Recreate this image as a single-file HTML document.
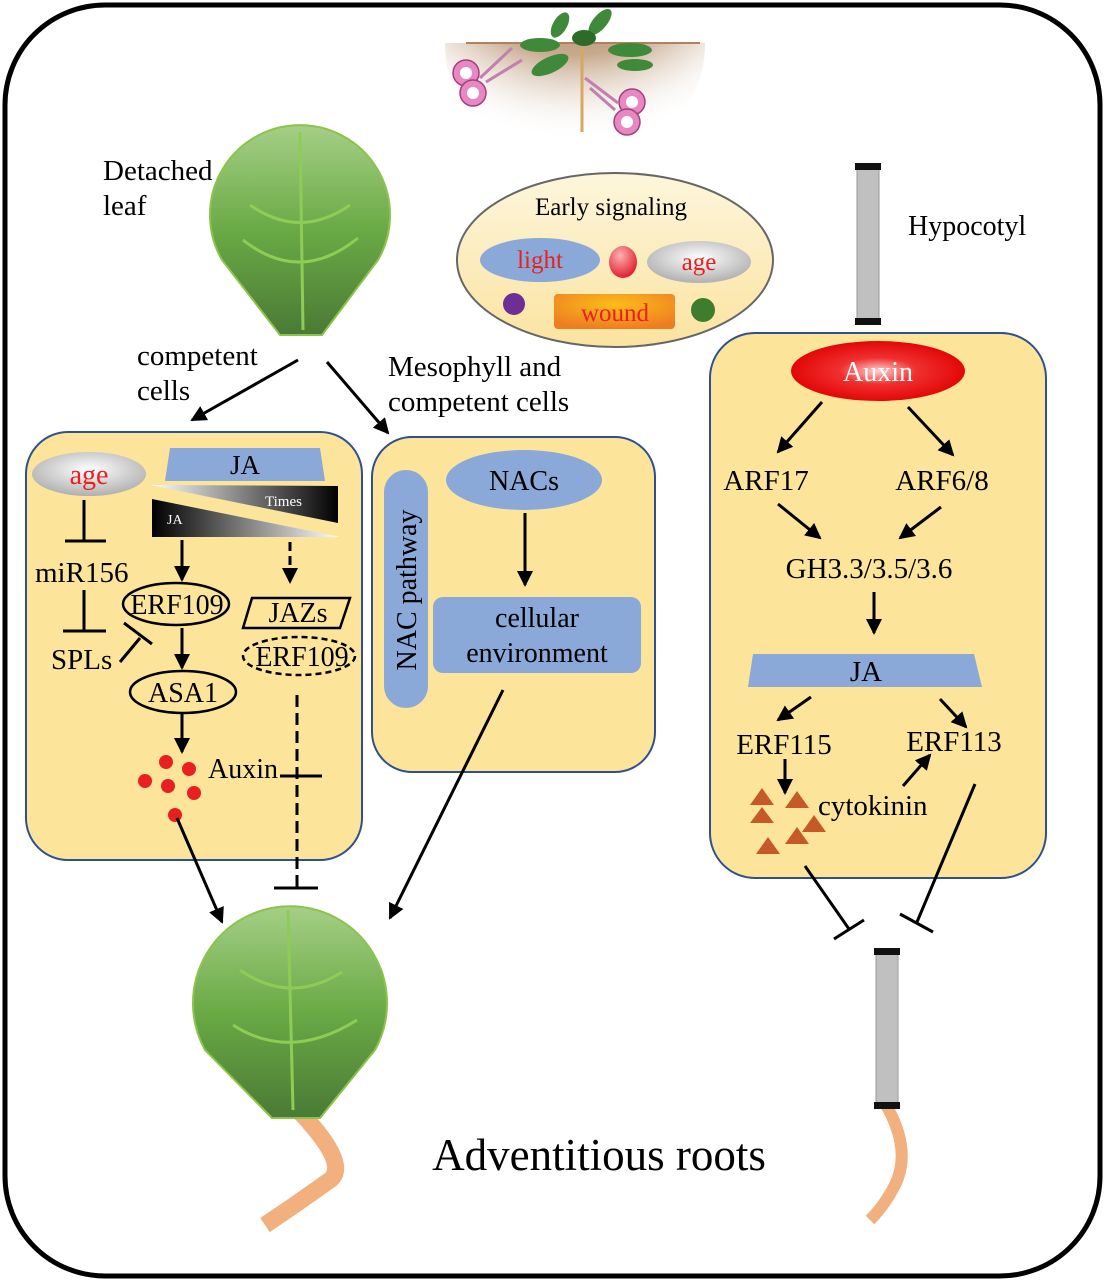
<!DOCTYPE html>
<html><head><meta charset="utf-8"><style>
html,body{margin:0;padding:0;background:#fff}
svg{display:block}
text{font-family:"Liberation Serif",serif}
</style></head><body>
<svg width="1105" height="1281" viewBox="0 0 1105 1281" xmlns="http://www.w3.org/2000/svg">
<defs>
<marker id="a2" markerWidth="16" markerHeight="16" refX="14" refY="8" orient="auto" markerUnits="userSpaceOnUse" viewBox="0 0 16 16">
<path d="M0,0 L16,8 L0,16 Z" fill="#000"/></marker>
<linearGradient id="leaf" x1="0" y1="0" x2="0" y2="1">
<stop offset="0" stop-color="#a5cf86"/><stop offset="0.5" stop-color="#6aaa45"/><stop offset="1" stop-color="#4a7a35"/></linearGradient>
<radialGradient id="gray" cx="0.5" cy="0.4" r="0.6"><stop offset="0" stop-color="#fff"/><stop offset="1" stop-color="#b0b0b0"/></radialGradient>
<radialGradient id="auxin" cx="0.5" cy="0.5" r="0.55"><stop offset="0" stop-color="#ffd0d0"/><stop offset="0.4" stop-color="#f03030"/><stop offset="1" stop-color="#e00000"/></radialGradient>
<radialGradient id="soil" cx="0.5" cy="0" r="0.9"><stop offset="0" stop-color="#8b6240"/><stop offset="0.6" stop-color="#c7a98d"/><stop offset="1" stop-color="#fff" stop-opacity="0"/></radialGradient>
<linearGradient id="ell" x1="0" y1="0" x2="0" y2="1"><stop offset="0" stop-color="#fdf6dc"/><stop offset="1" stop-color="#fbe3a0"/></linearGradient>
<radialGradient id="wound" cx="0.5" cy="0.3" r="0.7"><stop offset="0" stop-color="#fbbd1a"/><stop offset="1" stop-color="#ee7d22"/></radialGradient>
<linearGradient id="tri1" x1="0" y1="0" x2="1" y2="0"><stop offset="0" stop-color="#fff"/><stop offset="1" stop-color="#000"/></linearGradient>
<linearGradient id="tri2" x1="0" y1="0" x2="1" y2="0"><stop offset="0" stop-color="#000"/><stop offset="1" stop-color="#fff"/></linearGradient>
<radialGradient id="redb" cx="0.4" cy="0.3" r="0.7"><stop offset="0" stop-color="#ffb0b0"/><stop offset="1" stop-color="#e02030"/></radialGradient>
<clipPath id="soilclip"><rect x="440" y="43" width="300" height="130"/></clipPath>
</defs>

<rect x="5" y="5" width="1095" height="1271" rx="100" fill="#fff" stroke="#000" stroke-width="5"/>

<!-- top plant -->
<ellipse cx="575" cy="45" rx="130" ry="120" fill="url(#soil)" clip-path="url(#soilclip)"/>
<line x1="466" y1="43" x2="700" y2="43" stroke="#b08060" stroke-width="2"/>
<line x1="582" y1="48" x2="582" y2="132" stroke="#d8a860" stroke-width="3"/>
<ellipse cx="560" cy="25" rx="14" ry="7" fill="#3f8a3a" transform="rotate(-60 560 25)"/>
<ellipse cx="600" cy="22" rx="16" ry="7" fill="#3f8a3a" transform="rotate(-50 600 22)"/>
<ellipse cx="540" cy="45" rx="20" ry="7" fill="#3f8a3a"/>
<ellipse cx="630" cy="50" rx="22" ry="7" fill="#3f8a3a"/>
<ellipse cx="550" cy="65" rx="20" ry="8" fill="#3f8a3a" transform="rotate(-25 550 65)"/>
<ellipse cx="635" cy="65" rx="18" ry="6" fill="#3f8a3a"/>
<ellipse cx="584" cy="38" rx="12" ry="8" fill="#2e6a2a"/>
<g fill="#e888c0" stroke="#a04080" stroke-width="1.5">
<circle cx="466" cy="73" r="13"/><circle cx="473" cy="93" r="13"/>
<circle cx="632" cy="102" r="13"/><circle cx="627" cy="122" r="13"/></g>
<g fill="#fff"><circle cx="466" cy="73" r="6"/><circle cx="473" cy="93" r="6"/><circle cx="632" cy="102" r="6"/><circle cx="627" cy="122" r="6"/></g>
<line x1="480" y1="78" x2="512" y2="48" stroke="#c080b0" stroke-width="3"/>
<line x1="486" y1="82" x2="522" y2="60" stroke="#c080b0" stroke-width="3"/>
<line x1="618" y1="103" x2="585" y2="78" stroke="#c080b0" stroke-width="3"/>
<line x1="615" y1="110" x2="590" y2="88" stroke="#c080b0" stroke-width="3"/>

<!-- detached leaf -->
<path d="M280,335 L222,260 A90,90 0 1 1 378,260 L322,335 Z" fill="url(#leaf)" stroke="#8cc34a" stroke-width="2"/>
<path d="M300,132 L303,330" stroke="#8fcc55" stroke-width="3" fill="none"/>
<path d="M250,205 Q300,240 350,205 M243,240 Q300,285 358,238" stroke="#8fcc55" stroke-width="3" fill="none"/>
<text x="103" y="180" font-size="29">Detached</text>
<text x="103" y="215" font-size="29">leaf</text>

<!-- Early signaling -->
<ellipse cx="615" cy="260" rx="158" ry="87" fill="url(#ell)" stroke="#666" stroke-width="2"/>
<text x="611" y="215" font-size="25" text-anchor="middle">Early signaling</text>
<ellipse cx="540" cy="260" rx="60" ry="22" fill="#8aa8d8"/>
<text x="540" y="268" font-size="25" fill="#e82020" text-anchor="middle">light</text>
<ellipse cx="623" cy="262" rx="14" ry="16" fill="url(#redb)"/>
<ellipse cx="699" cy="262" rx="52" ry="21" fill="url(#gray)"/>
<text x="699" y="270" font-size="25" fill="#e82020" text-anchor="middle">age</text>
<circle cx="514" cy="304" r="11" fill="#6b2f95"/>
<rect x="554" y="294" width="121" height="35" rx="4" fill="url(#wound)"/>
<text x="615" y="321" font-size="25" fill="#e82020" text-anchor="middle">wound</text>
<circle cx="703" cy="310" r="12" fill="#3e7c2e"/>

<!-- Hypocotyl -->
<rect x="857" y="167" width="22" height="157" fill="#c0c0c0" stroke="#999"/>
<rect x="855" y="163" width="26" height="7" fill="#111"/>
<rect x="855" y="318" width="26" height="7" fill="#111"/>
<text x="908" y="235" font-size="28">Hypocotyl</text>

<!-- arrows from leaf -->
<line x1="298" y1="360" x2="192" y2="420" stroke="#000" stroke-width="3" marker-end="url(#a2)"/>
<line x1="327" y1="362" x2="388" y2="433" stroke="#000" stroke-width="3" marker-end="url(#a2)"/>
<text x="137" y="365" font-size="29">competent</text>
<text x="137" y="400" font-size="29">cells</text>
<text x="388" y="376" font-size="29">Mesophyll and</text>
<text x="388" y="411" font-size="29">competent cells</text>

<!-- left box -->
<rect x="26" y="432" width="336" height="428" rx="42" fill="#fce59b" stroke="#2f4f8f" stroke-width="2"/>
<ellipse cx="89" cy="474" rx="57" ry="22" fill="url(#gray)"/>
<text x="89" y="484" font-size="28" fill="#e82020" text-anchor="middle">age</text>
<path d="M170,448 L320,448 L325,481 L165,481 Z" fill="#8aa8d8"/>
<text x="245" y="474" font-size="27" text-anchor="middle">JA</text>
<path d="M150,485 L338,486 L338,523 Z" fill="url(#tri1)"/>
<text x="265" y="506" font-size="15" fill="#fff">Times</text>
<path d="M152,499 L152,537 L340,537 Z" fill="url(#tri2)"/>
<text x="167" y="524" font-size="14" fill="#fff">JA</text>
<g stroke="#000" stroke-width="3" fill="none">
<line x1="84" y1="500" x2="84" y2="540"/><line x1="65" y1="541" x2="106" y2="541"/>
<line x1="84" y1="590" x2="84" y2="630"/><line x1="63" y1="631" x2="106" y2="631"/>
<line x1="120" y1="662" x2="140" y2="638"/><line x1="124" y1="623" x2="152" y2="644"/>
<line x1="182" y1="540" x2="182" y2="580" marker-end="url(#a2)"/>
<line x1="182" y1="628" x2="182" y2="668" marker-end="url(#a2)"/>
<line x1="182" y1="714" x2="182" y2="752" marker-end="url(#a2)"/>
<line x1="290" y1="542" x2="290" y2="582" stroke-dasharray="9,5" marker-end="url(#a2)"/>
<line x1="297" y1="695" x2="297" y2="888" stroke-dasharray="12,6"/>
<line x1="274" y1="888" x2="318" y2="888"/>
<line x1="280" y1="776" x2="322" y2="776"/>
</g>
<text x="35" y="582" font-size="29">miR156</text>
<text x="51" y="669" font-size="29">SPLs</text>
<ellipse cx="176" cy="604" rx="53" ry="21" fill="none" stroke="#000" stroke-width="2.5"/>
<text x="177" y="614" font-size="28" text-anchor="middle">ERF109</text>
<path d="M252,598 L350,598 L340,628 L243,628 Z" fill="none" stroke="#000" stroke-width="2.5"/>
<text x="298" y="622" font-size="28" text-anchor="middle">JAZs</text>
<ellipse cx="299" cy="656" rx="56" ry="19" fill="none" stroke="#000" stroke-width="2.5" stroke-dasharray="6,4"/>
<text x="302" y="666" font-size="28" text-anchor="middle">ERF109</text>
<ellipse cx="183" cy="692" rx="53" ry="21" fill="none" stroke="#000" stroke-width="2.5"/>
<text x="183" y="702" font-size="28" text-anchor="middle">ASA1</text>
<g fill="#e82020"><circle cx="166" cy="762" r="7"/><circle cx="189" cy="769" r="7"/><circle cx="145" cy="781" r="7"/><circle cx="168" cy="786" r="7"/><circle cx="194" cy="793" r="7"/><circle cx="175" cy="815" r="7"/></g>
<text x="208" y="778" font-size="28">Auxin</text>

<!-- middle box -->
<rect x="372" y="437" width="283" height="335" rx="40" fill="#fce59b" stroke="#2f4f8f" stroke-width="2"/>
<rect x="384" y="470" width="44" height="238" rx="22" fill="#8aa8d8"/>
<text transform="translate(416,590) rotate(-90)" font-size="28" text-anchor="middle">NAC pathway</text>
<ellipse cx="524" cy="480" rx="78" ry="30" fill="#8aa8d8"/>
<text x="524" y="490" font-size="28" text-anchor="middle">NACs</text>
<line x1="525" y1="513" x2="525" y2="585" stroke="#000" stroke-width="3" marker-end="url(#a2)"/>
<rect x="433" y="597" width="208" height="76" rx="10" fill="#8aa8d8"/>
<text x="537" y="627" font-size="28" text-anchor="middle">cellular</text>
<text x="537" y="662" font-size="28" text-anchor="middle">environment</text>

<!-- arrows to bottom leaf -->
<line x1="177" y1="818" x2="222" y2="922" stroke="#000" stroke-width="3" marker-end="url(#a2)"/>
<line x1="503" y1="690" x2="390" y2="918" stroke="#000" stroke-width="3" marker-end="url(#a2)"/>

<!-- bottom leaf & root -->
<path d="M300,1112 Q350,1165 330,1180 Q295,1205 265,1225" stroke="#f2b07e" stroke-width="17" fill="none"/>
<path d="M272,1118 L205,1050 A97,97 0 1 1 375,1050 L320,1118 Z" fill="url(#leaf)" stroke="#8cc34a" stroke-width="2"/>
<path d="M288,910 L293,1110" stroke="#8fcc55" stroke-width="3" fill="none"/>
<path d="M240,970 Q290,1005 342,972 M233,1025 Q290,1062 357,1020" stroke="#8fcc55" stroke-width="3" fill="none"/>
<text x="599" y="1170" font-size="45" text-anchor="middle">Adventitious roots</text>

<!-- right box -->
<rect x="710" y="333" width="336" height="545" rx="45" fill="#fce59b" stroke="#2f4f8f" stroke-width="2"/>
<ellipse cx="878" cy="371" rx="87" ry="30" fill="url(#auxin)"/>
<text x="878" y="381" font-size="28" fill="#fff" text-anchor="middle">Auxin</text>
<g stroke="#000" stroke-width="3">
<line x1="822" y1="402" x2="778" y2="452" marker-end="url(#a2)"/>
<line x1="908" y1="407" x2="953" y2="455" marker-end="url(#a2)"/>
<line x1="778" y1="504" x2="820" y2="538" marker-end="url(#a2)"/>
<line x1="941" y1="507" x2="900" y2="538" marker-end="url(#a2)"/>
<line x1="874" y1="592" x2="874" y2="633" marker-end="url(#a2)"/>
<line x1="811" y1="697" x2="778" y2="720" marker-end="url(#a2)"/>
<line x1="940" y1="699" x2="966" y2="727" marker-end="url(#a2)"/>
<line x1="785" y1="759" x2="785" y2="793" marker-end="url(#a2)"/>
<line x1="903" y1="786" x2="930" y2="755" marker-end="url(#a2)"/>
<line x1="805" y1="866" x2="849" y2="929"/><line x1="834" y1="939" x2="864" y2="920"/>
<line x1="975" y1="784" x2="917" y2="922"/><line x1="900" y1="914" x2="933" y2="932"/>
</g>
<text x="766" y="490" font-size="29" text-anchor="middle">ARF17</text>
<text x="942" y="490" font-size="29" text-anchor="middle">ARF6/8</text>
<text x="869" y="578" font-size="29" text-anchor="middle">GH3.3/3.5/3.6</text>
<path d="M753,654 L974,654 L982,687 L748,687 Z" fill="#8aa8d8"/>
<text x="866" y="681" font-size="29" text-anchor="middle">JA</text>
<text x="784" y="754" font-size="29" text-anchor="middle">ERF115</text>
<text x="954" y="751" font-size="29" text-anchor="middle">ERF113</text>
<text x="818" y="815" font-size="29">cytokinin</text>
<g fill="#c55a28">
<path d="M750,805 L762,788 L774,805 Z"/><path d="M785,808 L797,791 L809,808 Z"/>
<path d="M750,823 L762,807 L774,823 Z"/><path d="M802,832 L814,815 L826,832 Z"/>
<path d="M785,844 L797,827 L809,844 Z"/><path d="M756,854 L768,837 L780,854 Z"/>
</g>

<!-- bottom hypocotyl -->
<path d="M886,1105 Q912,1150 895,1185 Q885,1205 870,1220" stroke="#f2b07e" stroke-width="12" fill="none"/>
<rect x="876" y="952" width="22" height="153" fill="#c0c0c0" stroke="#999"/>
<rect x="874" y="948" width="26" height="7" fill="#111"/>
<rect x="874" y="1102" width="26" height="7" fill="#111"/>
</svg>
</body></html>
